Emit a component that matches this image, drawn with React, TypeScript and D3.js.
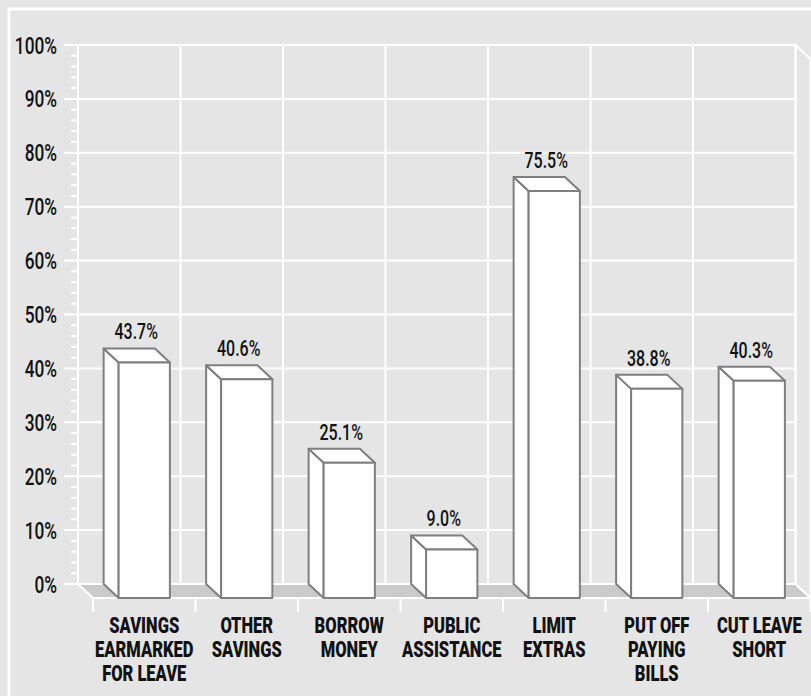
import { useEffect, useRef } from "react";
import * as d3 from "d3";

// category labels, one entry per line
const categories = [
  ["SAVINGS", "EARMARKED", "FOR LEAVE"],
  ["OTHER", "SAVINGS"],
  ["BORROW", "MONEY"],
  ["PUBLIC", "ASSISTANCE"],
  ["LIMIT", "EXTRAS"],
  ["PUT OFF", "PAYING", "BILLS"],
  ["CUT LEAVE", "SHORT"],
];
const values = [43.7, 40.6, 25.1, 9.0, 75.5, 38.8, 40.3];
const yTicks = [0, 10, 20, 30, 40, 50, 60, 70, 80, 90, 100];
const yMinorTicks = d3.range(0, 101, 2);

const FONT = "Roboto, 'Liberation Sans', sans-serif";
const BG = "#e5e5e5";
const FLOOR = "#cacaca";
const BAR_STROKE = "#7f7f7f";

// narrow text: no condensed font is installed, so squeeze horizontally
function narrowText(parent, x, y, sx) {
  return parent
    .append("g")
    .attr("transform", `translate(${x},${y}) scale(${sx},1)`)
    .append("text")
    .attr("font-family", FONT)
    .attr("fill", "#111");
}

export default function App() {
  const svgRef = useRef(null);

  useEffect(() => {
    const svg = d3.select(svgRef.current);
    svg.selectAll("*").remove();

    const width = 811;
    const height = 696;
    const left = 78;
    const right = 795.5;
    const top = 45;
    const bottom = 584;
    const dx = 15; // depth offset of the front plane
    const dy = 14;

    const x = d3
      .scaleBand()
      .domain(d3.range(values.length).map(String))
      .range([left, right])
      .paddingInner(0.5)
      .paddingOuter(0.25);
    const step = x.step();
    const bw = x.bandwidth();

    const y = d3.scaleLinear().domain([0, 100]).range([bottom, top]);

    svg.attr("width", width).attr("height", height);

    svg.append("rect").attr("width", width).attr("height", height).attr("fill", BG);

    // outer frame (runs off the right and bottom edges)
    svg
      .append("rect")
      .attr("x", 9)
      .attr("y", 9)
      .attr("width", 900)
      .attr("height", 900)
      .attr("fill", "none")
      .attr("stroke", "white")
      .attr("stroke-width", 3);

    // floor
    svg
      .append("polygon")
      .attr(
        "points",
        [
          [left, bottom],
          [right, bottom],
          [right + dx, bottom + dy],
          [left + dx, bottom + dy],
        ].join(" ")
      )
      .attr("fill", FLOOR)
      .attr("stroke", "white")
      .attr("stroke-width", 2);

    // right side wall
    svg
      .append("polygon")
      .attr(
        "points",
        [
          [right, top],
          [right + dx, top + dy],
          [right + dx, bottom + dy],
          [right, bottom],
        ].join(" ")
      )
      .attr("fill", BG)
      .attr("stroke", "white")
      .attr("stroke-width", 2);

    // gridlines on back wall
    svg
      .append("g")
      .selectAll("line")
      .data(yTicks)
      .enter()
      .append("line")
      .attr("x1", left - 14)
      .attr("x2", right)
      .attr("y1", (d) => y(d))
      .attr("y2", (d) => y(d))
      .attr("stroke", "white")
      .attr("stroke-width", 2);

    svg
      .append("g")
      .selectAll("line")
      .data(yMinorTicks.filter((d) => d % 10 !== 0))
      .enter()
      .append("line")
      .attr("x1", left - 7)
      .attr("x2", left)
      .attr("y1", (d) => y(d))
      .attr("y2", (d) => y(d))
      .attr("stroke", "white")
      .attr("stroke-width", 2);

    svg
      .append("g")
      .selectAll("line")
      .data(d3.range(values.length + 1))
      .enter()
      .append("line")
      .attr("x1", (i) => left + i * step)
      .attr("x2", (i) => left + i * step)
      .attr("y1", top)
      .attr("y2", bottom)
      .attr("stroke", "white")
      .attr("stroke-width", 2);

    // category dividers under the floor
    svg
      .append("g")
      .selectAll("line")
      .data(d3.range(values.length + 1))
      .enter()
      .append("line")
      .attr("x1", (i) => left + dx + i * step)
      .attr("x2", (i) => left + dx + i * step)
      .attr("y1", bottom + dy)
      .attr("y2", bottom + dy + 14)
      .attr("stroke", "white")
      .attr("stroke-width", 2);

    // y labels
    const yAxisG = svg.append("g");
    yTicks.forEach((d) => {
      narrowText(yAxisG, 57, y(d) + 8.5, 0.72)
        .attr("text-anchor", "end")
        .attr("font-size", 24)
        .attr("font-weight", 500)
        .text(d + "%");
    });

    // bars
    const barsG = svg.append("g");
    values.forEach((v, i) => {
      const g = barsG.append("g");
      const x0 = x(String(i));
      const yt = y(v);
      const y0 = y(0);

      const faceAttrs = (sel) =>
        sel
          .attr("fill", "white")
          .attr("stroke", BAR_STROKE)
          .attr("stroke-width", 2)
          .attr("stroke-linejoin", "round");

      g.append("polygon")
        .attr(
          "points",
          [
            [x0, yt],
            [x0 + dx, yt + dy],
            [x0 + dx, y0 + dy],
            [x0, y0],
          ].join(" ")
        )
        .call(faceAttrs);

      g.append("polygon")
        .attr(
          "points",
          [
            [x0, yt],
            [x0 + bw, yt],
            [x0 + bw + dx, yt + dy],
            [x0 + dx, yt + dy],
          ].join(" ")
        )
        .call(faceAttrs);

      g.append("rect")
        .attr("x", x0 + dx)
        .attr("y", yt + dy)
        .attr("width", bw)
        .attr("height", y0 - yt)
        .call(faceAttrs);

      narrowText(g, x0 + bw / 2 + 7, yt - 9, 0.71)
        .attr("text-anchor", "middle")
        .attr("font-size", 22.5)
        .attr("font-weight", 500)
        .text(v.toFixed(1) + "%");
    });

    // category labels
    const catG = svg.append("g");
    categories.forEach((lines, i) => {
      const cx = x(String(i)) + dx + bw / 2;
      narrowText(catG, cx, 633, 0.75)
        .attr("text-anchor", "middle")
        .attr("font-weight", 900)
        .attr("font-size", 22)
        .selectAll("tspan")
        .data(lines)
        .enter()
        .append("tspan")
        .attr("x", 0)
        .attr("y", (_, j) => j * 24)
        .text((d) => d);
    });
  }, []);

  return (
    <svg
      ref={svgRef}
      style={{ position: "absolute", left: 0, top: 0, display: "block" }}
    ></svg>
  );
}
